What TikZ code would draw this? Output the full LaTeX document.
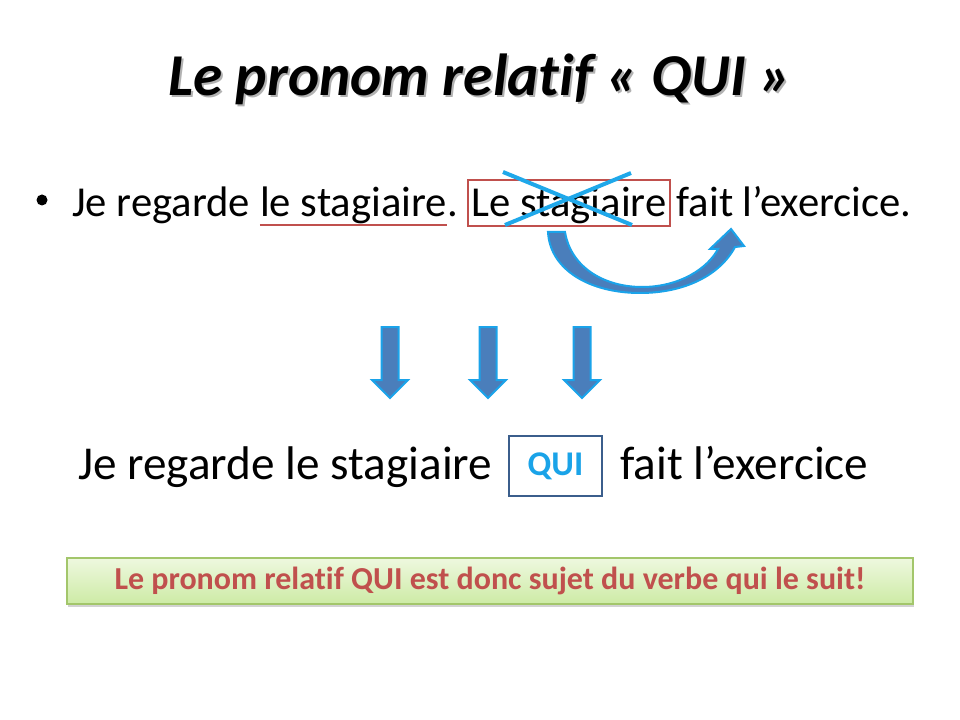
\documentclass[tikz,border=0pt]{standalone}
\usepackage{fontspec}
\setmainfont{Carlito}[Ligatures=NoCommon]
\usetikzlibrary{calc,shadows}
\definecolor{redline}{HTML}{C0504D}
\definecolor{xblue}{HTML}{1FA8EA}
\definecolor{arrfill}{HTML}{4A7EBB}
\definecolor{arredge}{HTML}{1AA3EA}
\definecolor{quiblue}{HTML}{1AA3E8}
\definecolor{boxblue}{HTML}{3B5E8C}
\definecolor{greentop}{HTML}{EEF8DF}
\definecolor{greenbot}{HTML}{CDEBA5}
\definecolor{greenedge}{HTML}{A3C66B}
\begin{document}
\begin{tikzpicture}[x=0.75pt,y=-0.75pt,
  txt/.style={inner sep=0pt, anchor=base west, font=\fontsize{32}{38}\selectfont},
  bigtxt/.style={inner sep=0pt, anchor=base west, font=\fontsize{35.4}{42}\selectfont},
  titlefont/.style={inner sep=0pt, anchor=base, font=\fontsize{44.5}{52}\selectfont\bfseries\itshape},
  downarrow/.style={fill=arrfill, draw=arredge, line width=1.5pt, line join=miter},
  crossline/.style={xblue, line width=3pt},
  redmark/.style={redline, line width=1.6pt}]
\useasboundingbox[fill=white] (0,0) rectangle (960,720);

% title with shadow
\node[titlefont, text=black!30] (titleshadow) at (482,98) {Le pronom relatif « QUI »};
\node[titlefont] (title) at (480,96) {Le pronom relatif « QUI »};

% bullet line
\fill (42,200) circle (5.5);
\node[txt] (b1) at (72,217) {\mbox{Je regarde }};
\node[txt] (b2) at (b1.base east) {le stagiaire};
\node[txt] (b3) at (b2.base east) {\mbox{. }};
\node[txt] (b4) at (b3.base east) {Le stagiaire};
\node[txt] (b5) at (b4.base east) {\mbox{ fait l’exercice.}};

\draw[redmark, line width=2.2pt] ($(b2.base west)+(0,8)$) -- ($(b2.base east)+(0,8)$);
\draw[redmark] ($(b4.base west)+(-3,-37)$) rectangle ($(b4.base east)+(3,9)$);

% blue cross
\draw[crossline] (503,172) -- (632,225);
\draw[crossline] (505,225) -- (631,173);

% curved arrow
\filldraw[fill=arrfill, draw=arredge, line width=1.5pt, line join=miter]
  (548,232) -- (565,232)
  .. controls (571,268) and (605,287) .. (642,287)
  .. controls (680,287) and (708,268) .. (718,249)
  -- (710,249) -- (731,229) -- (744,246) -- (735,247)
  .. controls (720,275) and (685,293) .. (640,293)
  .. controls (590,293) and (550,270) .. (548,232) -- cycle;

% down arrows
\foreach \cx in {390,488,582}{
  \filldraw[downarrow] (\cx-8.5,327) -- (\cx+8.5,327) -- (\cx+8.5,380) -- (\cx+18,380)
    -- (\cx,398) -- (\cx-18,380) -- (\cx-8.5,380) -- cycle;
}

% second sentence
\node[bigtxt] (l2a) at (78,479) {Je regarde le stagiaire};
\node[draw=boxblue, line width=2.2pt, minimum width=69.75pt, minimum height=45pt,
  inner sep=0pt, text=quiblue, font=\fontsize{26}{30}\selectfont\bfseries] (qui) at (555.5,466) {QUI};
\node[bigtxt] (l2b) at (620,479) {fait l’exercice};

% conclusion box
\node[draw=greenedge, line width=0.8pt, top color=greentop, bottom color=greenbot,
  minimum width=634.5pt, minimum height=34.5pt, inner sep=0pt,
  drop shadow={shadow xshift=1pt, shadow yshift=-2pt, opacity=0.35},
  text=redline, font=\fontsize{24}{28}\selectfont\bfseries] (concl) at (490,581)
  {Le pronom relatif QUI est donc sujet du verbe qui le suit!};
\end{tikzpicture}
\end{document}
